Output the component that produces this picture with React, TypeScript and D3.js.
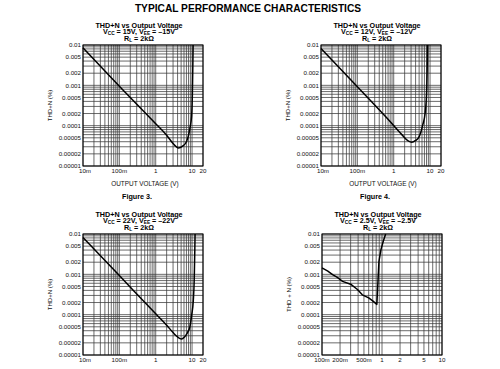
import * as d3 from "d3";
import React from "react";

// THD+N (%) vs output voltage (V)
const volts15 = [0.01, 0.1, 1, 2, 3, 4.2, 5.5, 7, 7.8, 8.8, 9.7, 10.2, 10.5, 10.7];
const thd15 = [0.0085, 0.00095, 0.000112, 0.000058, 0.000036, 0.000028, 0.000031, 0.00004, 0.000053, 0.00009, 0.00017, 0.0006, 0.003, 0.01];

const volts12 = [0.01, 0.018, 0.148, 0.65, 1.67, 2.5, 3.16, 4, 4.8, 5.6, 6.3, 7.3, 8.1, 8.4, 8.5];
const thd12 = [0.0082, 0.0047, 0.00064, 0.000155, 0.00006, 0.000042, 0.000039, 0.000043, 0.00005, 0.00007, 0.000105, 0.0002, 0.0008, 0.004, 0.01];

const volts22 = [0.01, 0.1, 1, 2, 3, 4, 5.1, 6.2, 7.5, 8.7, 9.8, 10.8, 11.5, 11.9, 12.1];
const thd22 = [0.0082, 0.00093, 0.000105, 0.000055, 0.000036, 0.000028, 0.000025, 0.000028, 0.000036, 0.00005, 0.0001, 0.00022, 0.0008, 0.004, 0.01];

const volts2v5 = [0.1, 0.125, 0.15, 0.18, 0.22, 0.3, 0.39, 0.47, 0.6, 0.7, 0.82, 0.89, 0.96, 1.05, 1.15];
const thd2v5 = [0.00144, 0.0012, 0.00098, 0.00084, 0.00067, 0.00057, 0.00042, 0.00031, 0.00026, 0.00022, 0.00018, 0.0021, 0.0041, 0.0066, 0.01];

const yTickValues = [0.01, 0.005, 0.002, 0.001, 0.0005, 0.0002, 0.0001, 0.00005, 0.00002, 0.00001];
const yTickLabels = ["0.01", "0.005", "0.002", "0.001", "0.0005", "0.0002", "0.0001", "0.00005", "0.00002", "0.00001"];

const xTickValues = [0.01, 0.1, 1, 10, 20];
const xTickLabels = ["10m", "100m", "1", "10", "20"];
const xTickValuesLow = [0.1, 0.2, 0.5, 1, 2, 5, 10];
const xTickLabelsLow = ["100m", "200m", "500m", "1", "2", "5", "10"];

const FONT = "Liberation Sans, Arial, Helvetica, sans-serif";
const W = 120;
const H = 121;

// 1..9 x 10^n lines between lo and hi
function logGrid(lo: number, hi: number) {
  const out: number[] = [];
  for (let e = Math.floor(Math.log10(lo) + 1e-9); e <= Math.ceil(Math.log10(hi)); e++) {
    for (let m = 1; m < 10; m++) {
      const v = m * Math.pow(10, e);
      if (v >= lo * 0.999 && v <= hi * 1.001) out.push(v);
    }
  }
  return out;
}

interface PanelProps {
  left: number;
  top: number;
  xDomain: [number, number];
  xTicks: number[];
  xLabels: string[];
  xs: number[];
  ys: number[];
  smooth: boolean;
  supply: string;
  yTitle: string;
  figure?: string;
  xTitleOffset?: number;
}

function Panel({ left, top, xDomain, xTicks, xLabels, xs, ys, smooth, supply, yTitle, figure, xTitleOffset = 18 }: PanelProps) {
  const x = d3.scaleLog().domain(xDomain).range([left, left + W]);
  const y = d3.scaleLog().domain([0.00001, 0.01]).range([top + H, top]);

  const line = d3.line<number>()
    .x((_, i) => x(xs[i]))
    .y(d => y(d))
    .curve(smooth ? d3.curveMonotoneX : d3.curveLinear);

  const cx = left + W / 2;

  return (
    <g>
      {/* title */}
      <g fontFamily={FONT} fontWeight="bold" fontSize={7.2} textAnchor="middle" fill="#000">
        <text x={cx - 4} y={top - 17.5}>THD+N vs Output Voltage</text>
        <text x={cx - 4} y={top - 11}>
          V<tspan fontSize={4.8} dy={1}>CC</tspan>
          <tspan dy={-1}>{` = ${supply}, V`}</tspan>
          <tspan fontSize={4.8} dy={1}>EE</tspan>
          <tspan dy={-1}>{` = \u2013${supply}`}</tspan>
        </text>
        <text x={cx - 4} y={top - 4.5}>
          R<tspan fontSize={4.8} dy={1}>L</tspan>
          <tspan dy={-1}> = 2k{"\u03A9"}</tspan>
        </text>
      </g>

      {/* grid */}
      <g stroke="#3a3a3a" strokeWidth={0.75} fill="none">
        {logGrid(xDomain[0], xDomain[1]).map((v, i) => (
          <line key={"gx" + i} x1={x(v)} x2={x(v)} y1={top} y2={top + H} />
        ))}
        {logGrid(0.00001, 0.01).map((v, i) => (
          <line key={"gy" + i} x1={left} x2={left + W} y1={y(v)} y2={y(v)} />
        ))}
      </g>
      <rect x={left} y={top} width={W} height={H} fill="none" stroke="#000" strokeWidth={1} />

      {/* curve */}
      <path d={line(ys) || ""} fill="none" stroke="#000" strokeWidth={1.5} strokeLinejoin="round" />

      {/* y ticks */}
      <g fontFamily={FONT} fontSize={6.2} fill="#111" textAnchor="end">
        {yTickValues.map((v, i) => (
          <text key={i} x={left - 2} y={y(v) + 2.2}>{yTickLabels[i]}</text>
        ))}
      </g>
      {/* x ticks */}
      <g fontFamily={FONT} fontSize={6.2} fill="#111" textAnchor="middle">
        {xTicks.map((v, i) => (
          <text key={i} x={x(v) + (i === 0 && xDomain[0] === 0.01 ? 2 : 0)} y={top + H + 6.5}>{xLabels[i]}</text>
        ))}
      </g>

      <text
        transform={`translate(${left - 31}, ${top + H / 2}) rotate(-90)`}
        fontFamily={FONT} fontSize={6.1} textAnchor="middle" fill="#111"
      >{yTitle}</text>

      {xTitleOffset > 0 && (
        <text x={cx + 2} y={top + H + xTitleOffset + 2} fontFamily={FONT} fontSize={6.4} textAnchor="middle" fill="#111">
          OUTPUT VOLTAGE (V)
        </text>
      )}
      {figure && (
        <text x={cx - 6} y={top + H + 32.5} fontFamily={FONT} fontWeight="bold" fontSize={7.2} textAnchor="middle" fill="#000">
          {figure}
        </text>
      )}
    </g>
  );
}

export default function App() {
  return (
    <svg width={500} height={369} style={{ position: "absolute", left: 0, top: 0, background: "#fff" }}>
      <rect width={500} height={369} fill="#fff" />
      <text x={248} y={11.8} fontFamily={FONT} fontWeight="bold" fontSize={10.2} textAnchor="middle" fill="#000">
        TYPICAL PERFORMANCE CHARACTERISTICS
      </text>
      <Panel left={83} top={45} xDomain={[0.01, 20]} xTicks={xTickValues} xLabels={xTickLabels}
        xs={volts15} ys={thd15} smooth supply="15V" yTitle="THD+N (%)" figure="Figure 3." />
      <Panel left={321} top={45} xDomain={[0.01, 20]} xTicks={xTickValues} xLabels={xTickLabels}
        xs={volts12} ys={thd12} smooth supply="12V" yTitle="THD+N (%)" figure="Figure 4." />
      <Panel left={83} top={234} xDomain={[0.01, 20]} xTicks={xTickValues} xLabels={xTickLabels}
        xs={volts22} ys={thd22} smooth supply="22V" yTitle="THD+N (%)" xTitleOffset={17} />
      <Panel left={322} top={234} xDomain={[0.1, 10]} xTicks={xTickValuesLow} xLabels={xTickLabelsLow}
        xs={volts2v5} ys={thd2v5} smooth={false} supply="2.5V" yTitle="THD + N (%)" xTitleOffset={0} />
    </svg>
  );
}
